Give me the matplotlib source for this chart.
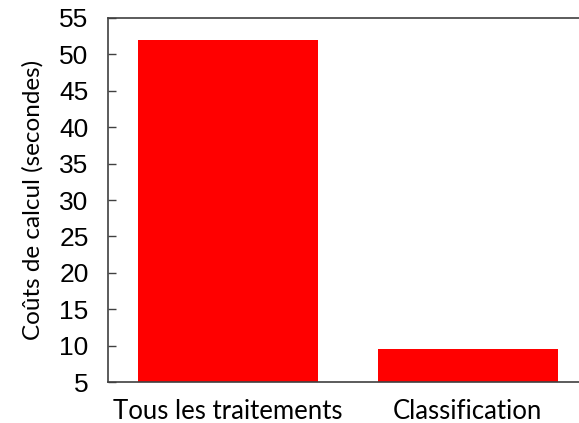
import matplotlib
matplotlib.use("Agg")
import matplotlib.pyplot as plt

categories = ["Tous les traitements", "Classification"]
values = [52.0, 9.6]
yticks = [5, 10, 15, 20, 25, 30, 35, 40, 45, 50, 55]

W, H = 579, 423
fig = plt.figure(figsize=(W / 100, H / 100), dpi=100)
left, right, top, bottom = 108, 587.5, 18, 382
ax = fig.add_axes([left / W, 1 - bottom / H, (right - left) / W, (bottom - top) / H])

x = list(range(len(categories)))
ax.bar(x, values, width=0.75, color="#ff0000", bottom=0)
ax.set_xlim(-0.5, 1.5)
ax.set_ylim(5, 55)
ax.set_yticks(yticks)
ax.set_yticklabels([str(t) for t in yticks], fontfamily="Liberation Sans", fontsize=19)
ax.set_xticks(x)
ax.set_xticklabels(categories, fontfamily="Lato", fontsize=18.5)
ax.tick_params(axis="y", direction="in", length=6, width=1, color="#404040", pad=14, right=False)
ax.tick_params(axis="x", length=0, pad=12)
for s in ["left", "top", "bottom"]:
    ax.spines[s].set_color("#404040")
    ax.spines[s].set_linewidth(1.2)
ax.spines["right"].set_visible(False)
ax.set_ylabel("Coûts de calcul (secondes)", fontfamily="Lato", fontsize=17.5)
ax.yaxis.set_label_coords(-0.135, 0.5)

fig.savefig("out.png", dpi=100)
